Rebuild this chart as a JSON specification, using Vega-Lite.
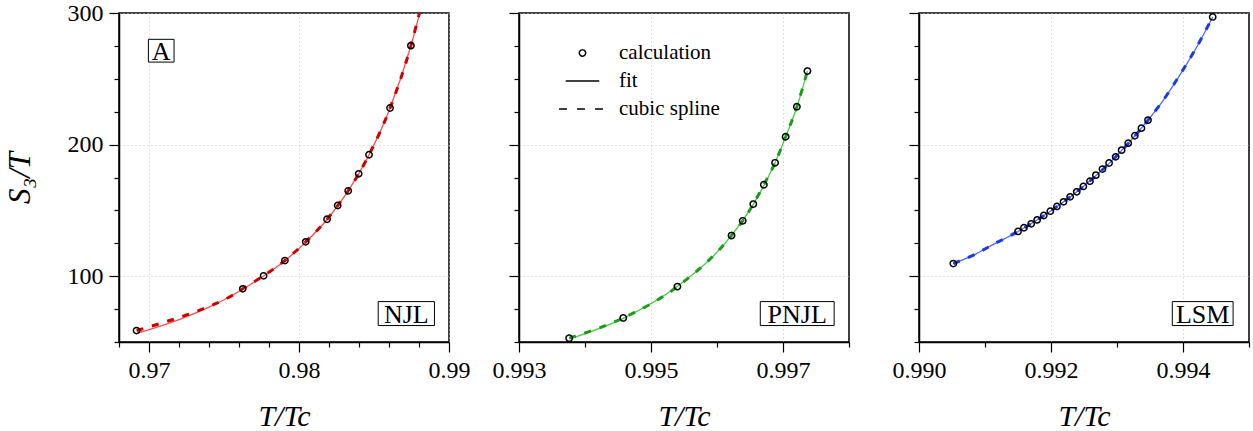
{
  "$schema": "https://vega.github.io/schema/vega-lite/v6.json",
  "padding": {"left": 3, "top": 0, "right": 4, "bottom": 0},
  "spacing": 70,
  "bounds": "flush",
  "config": {
    "view": {"stroke": "black", "strokeWidth": 1.5},
    "font": "Liberation Serif",
    "axis": {
      "labelFont": "Liberation Serif", "labelFontSize": 24, "labelColor": "black",
      "titleFont": "Liberation Serif", "titleFontStyle": "italic", "titleFontWeight": "normal",
      "titleFontSize": 30, "titleColor": "black",
      "domainColor": "black", "domainWidth": 1.5, "tickColor": "black", "tickWidth": 1.2,
      "gridDash": [1, 3], "gridWidth": 1, "tickCount": 40,
      "labelFlush": false, "labelOverlap": false, "labelPadding": 6
    },
    "axisX": {"titlePadding": 19},
    "axisY": {"titlePadding": 31, "titleFontSize": 31}
  },
  "datasets": {
    "njl": [
      {"T": 0.96917, "S": 58.7, "series": "calculation"},
      {"T": 0.97625, "S": 90.4, "series": "calculation"},
      {"T": 0.97764, "S": 100.3, "series": "calculation"},
      {"T": 0.97906, "S": 111.9, "series": "calculation"},
      {"T": 0.98045, "S": 126.1, "series": "calculation"},
      {"T": 0.98187, "S": 143.3, "series": "calculation"},
      {"T": 0.98258, "S": 153.7, "series": "calculation"},
      {"T": 0.98328, "S": 164.9, "series": "calculation"},
      {"T": 0.98398, "S": 177.8, "series": "calculation"},
      {"T": 0.98467, "S": 192.3, "series": "calculation"},
      {"T": 0.98607, "S": 227.8, "series": "calculation"},
      {"T": 0.98746, "S": 275.2, "series": "calculation"},
      {"T": 0.96922, "S": 56.8, "series": "fit"},
      {"T": 0.9700, "S": 59.4, "series": "fit"},
      {"T": 0.9710, "S": 63.0, "series": "fit"},
      {"T": 0.9720, "S": 67.0, "series": "fit"},
      {"T": 0.9730, "S": 71.5, "series": "fit"},
      {"T": 0.9740, "S": 76.5, "series": "fit"},
      {"T": 0.9750, "S": 82.1, "series": "fit"},
      {"T": 0.9760, "S": 88.4, "series": "fit"},
      {"T": 0.9770, "S": 95.4, "series": "fit"},
      {"T": 0.97764, "S": 100.1, "series": "fit"},
      {"T": 0.97906, "S": 111.7, "series": "fit"},
      {"T": 0.98045, "S": 125.9, "series": "fit"},
      {"T": 0.98187, "S": 143.1, "series": "fit"},
      {"T": 0.98328, "S": 164.8, "series": "fit"},
      {"T": 0.98467, "S": 192.2, "series": "fit"},
      {"T": 0.98607, "S": 227.8, "series": "fit"},
      {"T": 0.98746, "S": 275.1, "series": "fit"},
      {"T": 0.98805, "S": 300.0, "series": "fit"},
      {"T": 0.96917, "S": 58.7, "series": "cubic spline"},
      {"T": 0.97101, "S": 65.0, "series": "cubic spline"},
      {"T": 0.97325, "S": 73.6, "series": "cubic spline"},
      {"T": 0.97549, "S": 85.0, "series": "cubic spline"},
      {"T": 0.97625, "S": 90.4, "series": "cubic spline"},
      {"T": 0.97764, "S": 100.3, "series": "cubic spline"},
      {"T": 0.97906, "S": 111.9, "series": "cubic spline"},
      {"T": 0.98045, "S": 126.1, "series": "cubic spline"},
      {"T": 0.98187, "S": 143.3, "series": "cubic spline"},
      {"T": 0.98258, "S": 153.7, "series": "cubic spline"},
      {"T": 0.98328, "S": 164.9, "series": "cubic spline"},
      {"T": 0.98398, "S": 177.8, "series": "cubic spline"},
      {"T": 0.98467, "S": 192.3, "series": "cubic spline"},
      {"T": 0.98607, "S": 227.8, "series": "cubic spline"},
      {"T": 0.98746, "S": 275.2, "series": "cubic spline"},
      {"T": 0.98803, "S": 300.0, "series": "cubic spline"}
    ],
    "pnjl": [
      {"T": 0.99376, "S": 52.9, "series": "calculation"},
      {"T": 0.99458, "S": 68.3, "series": "calculation"},
      {"T": 0.99540, "S": 92.1, "series": "calculation"},
      {"T": 0.99622, "S": 130.9, "series": "calculation"},
      {"T": 0.99639, "S": 142.1, "series": "calculation"},
      {"T": 0.99655, "S": 154.8, "series": "calculation"},
      {"T": 0.99671, "S": 169.5, "series": "calculation"},
      {"T": 0.99688, "S": 186.2, "series": "calculation"},
      {"T": 0.99704, "S": 206.0, "series": "calculation"},
      {"T": 0.99721, "S": 228.8, "series": "calculation"},
      {"T": 0.99737, "S": 255.9, "series": "calculation"},
      {"T": 0.99378, "S": 52.6, "series": "fit"},
      {"T": 0.99458, "S": 68.0, "series": "fit"},
      {"T": 0.99540, "S": 92.3, "series": "fit"},
      {"T": 0.99622, "S": 131.0, "series": "fit"},
      {"T": 0.99655, "S": 154.6, "series": "fit"},
      {"T": 0.99688, "S": 186.4, "series": "fit"},
      {"T": 0.99704, "S": 206.0, "series": "fit"},
      {"T": 0.99721, "S": 228.6, "series": "fit"},
      {"T": 0.99737, "S": 255.9, "series": "fit"},
      {"T": 0.99376, "S": 52.9, "series": "cubic spline"},
      {"T": 0.99458, "S": 68.3, "series": "cubic spline"},
      {"T": 0.99540, "S": 92.1, "series": "cubic spline"},
      {"T": 0.99622, "S": 130.9, "series": "cubic spline"},
      {"T": 0.99639, "S": 142.1, "series": "cubic spline"},
      {"T": 0.99655, "S": 154.8, "series": "cubic spline"},
      {"T": 0.99671, "S": 169.5, "series": "cubic spline"},
      {"T": 0.99688, "S": 186.2, "series": "cubic spline"},
      {"T": 0.99704, "S": 206.0, "series": "cubic spline"},
      {"T": 0.99721, "S": 228.8, "series": "cubic spline"},
      {"T": 0.99737, "S": 255.9, "series": "cubic spline"}
    ],
    "lsm": [
      {"T": 0.99052, "S": 109.6, "series": "calculation"},
      {"T": 0.99150, "S": 134.0, "series": "calculation"},
      {"T": 0.99159, "S": 136.8, "series": "calculation"},
      {"T": 0.99170, "S": 139.8, "series": "calculation"},
      {"T": 0.99179, "S": 142.8, "series": "calculation"},
      {"T": 0.99189, "S": 146.1, "series": "calculation"},
      {"T": 0.99199, "S": 149.4, "series": "calculation"},
      {"T": 0.99209, "S": 153.0, "series": "calculation"},
      {"T": 0.99219, "S": 156.5, "series": "calculation"},
      {"T": 0.99229, "S": 160.3, "series": "calculation"},
      {"T": 0.99239, "S": 164.1, "series": "calculation"},
      {"T": 0.99249, "S": 168.2, "series": "calculation"},
      {"T": 0.99259, "S": 172.2, "series": "calculation"},
      {"T": 0.99268, "S": 176.8, "series": "calculation"},
      {"T": 0.99278, "S": 181.4, "series": "calculation"},
      {"T": 0.99288, "S": 186.0, "series": "calculation"},
      {"T": 0.99298, "S": 190.7, "series": "calculation"},
      {"T": 0.99307, "S": 195.8, "series": "calculation"},
      {"T": 0.99317, "S": 201.1, "series": "calculation"},
      {"T": 0.99327, "S": 206.7, "series": "calculation"},
      {"T": 0.99337, "S": 212.5, "series": "calculation"},
      {"T": 0.99347, "S": 218.6, "series": "calculation"},
      {"T": 0.99445, "S": 297.0, "series": "calculation"},
      {"T": 0.99052, "S": 109.6, "series": "fit"},
      {"T": 0.99085, "S": 116.6, "series": "fit"},
      {"T": 0.99110, "S": 123.4, "series": "fit"},
      {"T": 0.99150, "S": 134.0, "series": "fit"},
      {"T": 0.99199, "S": 149.4, "series": "fit"},
      {"T": 0.99249, "S": 168.2, "series": "fit"},
      {"T": 0.99298, "S": 190.7, "series": "fit"},
      {"T": 0.99347, "S": 218.6, "series": "fit"},
      {"T": 0.99369, "S": 232.9, "series": "fit"},
      {"T": 0.99394, "S": 251.8, "series": "fit"},
      {"T": 0.99420, "S": 273.4, "series": "fit"},
      {"T": 0.99445, "S": 297.0, "series": "fit"},
      {"T": 0.99052, "S": 109.6, "series": "cubic spline"},
      {"T": 0.99085, "S": 116.7, "series": "cubic spline"},
      {"T": 0.99110, "S": 123.5, "series": "cubic spline"},
      {"T": 0.99150, "S": 134.0, "series": "cubic spline"},
      {"T": 0.99199, "S": 149.4, "series": "cubic spline"},
      {"T": 0.99249, "S": 168.2, "series": "cubic spline"},
      {"T": 0.99298, "S": 190.7, "series": "cubic spline"},
      {"T": 0.99347, "S": 218.6, "series": "cubic spline"},
      {"T": 0.99369, "S": 233.0, "series": "cubic spline"},
      {"T": 0.99394, "S": 252.0, "series": "cubic spline"},
      {"T": 0.99420, "S": 273.6, "series": "cubic spline"},
      {"T": 0.99445, "S": 297.0, "series": "cubic spline"}
    ],
    "note": [
      {"label": "note"}
    ]
  },
  "hconcat": [
    {
      "width": 330, "height": 329,
      "layer": [
        {
          "data": {"name": "njl"},
          "transform": [{"filter": "datum.series == 'fit'"}],
          "mark": {"type": "line", "color": "#ff4d4d", "strokeWidth": 1.3, "interpolate": "monotone", "clip": true},
          "encoding": {
            "x": {"field": "T", "type": "quantitative",
              "scale": {"domain": [0.968, 0.99], "nice": false, "zero": false},
              "axis": {
                "title": "T/Tc", "labelFont": "Liberation Serif", "labelOverlap": false, "labelBound": false, "tickCount": 40,
                "values": [0.968, 0.97, 0.972, 0.974, 0.976, 0.978, 0.98, 0.982, 0.984, 0.986, 0.988, 0.99],
                "labelExpr": "(datum.value == 0.97 || datum.value == 0.98 || datum.value == 0.99) ? format(datum.value,'.2f') : ''",
                "tickSize": {"condition": {"test": "datum.value == 0.97 || datum.value == 0.98 || datum.value == 0.99", "value": 10}, "value": 5},
                "gridColor": {"condition": {"test": "datum.value == 0.97 || datum.value == 0.98 || datum.value == 0.99", "value": "#c8c8c8"}, "value": "transparent"}
              }},
            "y": {"field": "S", "type": "quantitative",
              "scale": {"domain": [50, 300], "nice": false, "zero": false},
              "axis": {
                "title": "S₃/T", "labelFont": "Liberation Serif", "labelOverlap": false, "tickCount": 40,
                "values": [50, 75, 100, 125, 150, 175, 200, 225, 250, 275, 300],
                "labelExpr": "datum.value % 100 == 0 ? datum.label : ''",
                "tickSize": {"condition": {"test": "datum.value % 100 == 0", "value": 10}, "value": 5},
                "gridColor": {"condition": {"test": "datum.value % 100 == 0", "value": "#c8c8c8"}, "value": "transparent"}
              }}
          }
        },
        {
          "data": {"name": "njl"},
          "transform": [{"filter": "datum.series == 'cubic spline'"}],
          "mark": {"type": "line", "color": "#cc0000", "strokeWidth": 3, "strokeDash": [7, 9], "interpolate": "monotone", "clip": true},
          "encoding": {"x": {"field": "T", "type": "quantitative"}, "y": {"field": "S", "type": "quantitative"}}
        },
        {
          "data": {"name": "njl"},
          "transform": [{"filter": "datum.series == 'calculation'"}],
          "mark": {"type": "point", "shape": "circle", "filled": false, "color": "black", "strokeWidth": 1.5, "size": 40, "opacity": 1},
          "encoding": {"x": {"field": "T", "type": "quantitative"}, "y": {"field": "S", "type": "quantitative"}}
        },
        {
          "data": {"name": "note"},
          "mark": {"type": "rect", "fill": "white", "stroke": "black", "strokeWidth": 1},
          "encoding": {
            "x": {"datum": 0.96996, "type": "quantitative"}, "x2": {"datum": 0.97167},
            "y": {"datum": 280.0, "type": "quantitative"}, "y2": {"datum": 262.7}
          }
        },
        {
          "data": {"name": "note"},
          "mark": {"type": "text", "font": "Liberation Serif", "fontSize": 26, "baseline": "middle", "align": "center", "dy": 1, "fill": "black"},
          "encoding": {
            "x": {"datum": 0.970815, "type": "quantitative"}, "y": {"datum": 271.35, "type": "quantitative"},
            "text": {"value": "A"}
          }
        },
        {
          "data": {"name": "note"},
          "mark": {"type": "rect", "fill": "white", "stroke": "black", "strokeWidth": 1},
          "encoding": {
            "x": {"datum": 0.98528, "type": "quantitative"}, "x2": {"datum": 0.98903},
            "y": {"datum": 80.7, "type": "quantitative"}, "y2": {"datum": 62.5}
          }
        },
        {
          "data": {"name": "note"},
          "mark": {"type": "text", "font": "Liberation Serif", "fontSize": 26, "baseline": "middle", "align": "center", "dy": 1, "fill": "black"},
          "encoding": {
            "x": {"datum": 0.987155, "type": "quantitative"}, "y": {"datum": 71.6, "type": "quantitative"},
            "text": {"value": "NJL"}
          }
        }
      ]
    },
    {
      "width": 330, "height": 329,
      "layer": [
        {
          "data": {"name": "pnjl"},
          "transform": [{"filter": "datum.series == 'fit'"}],
          "mark": {"type": "line", "color": "#44cc44", "strokeWidth": 1.3, "interpolate": "monotone", "clip": true},
          "encoding": {
            "x": {"field": "T", "type": "quantitative",
              "scale": {"domain": [0.993, 0.998], "nice": false, "zero": false},
              "axis": {
                "title": "T/Tc", "labelFont": "Liberation Serif", "labelOverlap": false, "labelBound": false, "tickCount": 40,
                "values": [0.993, 0.994, 0.995, 0.996, 0.997, 0.998],
                "labelExpr": "(datum.value == 0.993 || datum.value == 0.995 || datum.value == 0.997) ? format(datum.value,'.3f') : ''",
                "tickSize": {"condition": {"test": "datum.value == 0.993 || datum.value == 0.995 || datum.value == 0.997", "value": 10}, "value": 5},
                "gridColor": {"condition": {"test": "datum.value == 0.993 || datum.value == 0.995 || datum.value == 0.997", "value": "#c8c8c8"}, "value": "transparent"}
              }},
            "y": {"field": "S", "type": "quantitative",
              "scale": {"domain": [50, 300], "nice": false, "zero": false},
              "axis": {
                "title": null, "labels": false, "tickCount": 40,
                "values": [50, 75, 100, 125, 150, 175, 200, 225, 250, 275, 300],
                "tickSize": {"condition": {"test": "datum.value % 100 == 0", "value": 10}, "value": 5},
                "gridColor": {"condition": {"test": "datum.value % 100 == 0", "value": "#c8c8c8"}, "value": "transparent"}
              }}
          }
        },
        {
          "data": {"name": "pnjl"},
          "transform": [{"filter": "datum.series == 'cubic spline'"}],
          "mark": {"type": "line", "color": "#1f9a1f", "strokeWidth": 3, "strokeDash": [7, 9], "interpolate": "monotone", "clip": true},
          "encoding": {"x": {"field": "T", "type": "quantitative"}, "y": {"field": "S", "type": "quantitative"}}
        },
        {
          "data": {"name": "pnjl"},
          "transform": [{"filter": "datum.series == 'calculation'"}],
          "mark": {"type": "point", "filled": false, "color": "black", "opacity": 1},
          "encoding": {
            "x": {"field": "T", "type": "quantitative"},
            "y": {"field": "S", "type": "quantitative"},
            "shape": {"field": "series", "type": "nominal",
              "scale": {"domain": ["calculation", "fit", "cubic spline"], "range": ["circle", "stroke", "stroke"]},
              "legend": {"orient": "none", "legendX": 439, "legendY": 30, "title": null, "padding": 0,
                "labelFont": "Liberation Serif", "labelFontSize": 21, "labelColor": "black",
                "clipHeight": 20, "rowPadding": 7, "labelOffset": 12,
                "symbolStrokeColor": "black", "symbolFillColor": "transparent"}},
            "size": {"field": "series", "type": "nominal",
              "scale": {"domain": ["calculation", "fit", "cubic spline"], "range": [40, 2209, 2209]}},
            "strokeDash": {"field": "series", "type": "nominal",
              "scale": {"domain": ["calculation", "fit", "cubic spline"], "range": [[1, 0], [1, 0], [8, 10]]}},
            "strokeWidth": {"field": "series", "type": "nominal",
              "scale": {"domain": ["calculation", "fit", "cubic spline"], "range": [1.5, 1.3, 3]}}
          }
        },
        {
          "data": {"name": "note"},
          "mark": {"type": "rect", "fill": "white", "stroke": "black", "strokeWidth": 1},
          "encoding": {
            "x": {"datum": 0.996656, "type": "quantitative"}, "x2": {"datum": 0.997775},
            "y": {"datum": 80.7, "type": "quantitative"}, "y2": {"datum": 62.5}
          }
        },
        {
          "data": {"name": "note"},
          "mark": {"type": "text", "font": "Liberation Serif", "fontSize": 26, "baseline": "middle", "align": "center", "dy": 1, "fill": "black"},
          "encoding": {
            "x": {"datum": 0.9972155, "type": "quantitative"}, "y": {"datum": 71.6, "type": "quantitative"},
            "text": {"value": "PNJL"}
          }
        }
      ]
    },
    {
      "width": 330, "height": 329,
      "layer": [
        {
          "data": {"name": "lsm"},
          "transform": [{"filter": "datum.series == 'fit'"}],
          "mark": {"type": "line", "color": "#4d66ff", "strokeWidth": 1.3, "interpolate": "monotone", "clip": true},
          "encoding": {
            "x": {"field": "T", "type": "quantitative",
              "scale": {"domain": [0.99, 0.995], "nice": false, "zero": false},
              "axis": {
                "title": "T/Tc", "labelFont": "Liberation Serif", "labelOverlap": false, "labelBound": false, "tickCount": 40,
                "values": [0.99, 0.991, 0.992, 0.993, 0.994, 0.995],
                "labelExpr": "(datum.value == 0.99 || datum.value == 0.992 || datum.value == 0.994) ? format(datum.value,'.3f') : ''",
                "tickSize": {"condition": {"test": "datum.value == 0.99 || datum.value == 0.992 || datum.value == 0.994", "value": 10}, "value": 5},
                "gridColor": {"condition": {"test": "datum.value == 0.99 || datum.value == 0.992 || datum.value == 0.994", "value": "#c8c8c8"}, "value": "transparent"}
              }},
            "y": {"field": "S", "type": "quantitative",
              "scale": {"domain": [50, 300], "nice": false, "zero": false},
              "axis": {
                "title": null, "labels": false, "tickCount": 40,
                "values": [50, 75, 100, 125, 150, 175, 200, 225, 250, 275, 300],
                "tickSize": {"condition": {"test": "datum.value % 100 == 0", "value": 10}, "value": 5},
                "gridColor": {"condition": {"test": "datum.value % 100 == 0", "value": "#c8c8c8"}, "value": "transparent"}
              }}
          }
        },
        {
          "data": {"name": "lsm"},
          "transform": [{"filter": "datum.series == 'cubic spline'"}],
          "mark": {"type": "line", "color": "#1a3ae6", "strokeWidth": 3, "strokeDash": [7, 9], "interpolate": "monotone", "clip": true},
          "encoding": {"x": {"field": "T", "type": "quantitative"}, "y": {"field": "S", "type": "quantitative"}}
        },
        {
          "data": {"name": "lsm"},
          "transform": [{"filter": "datum.series == 'calculation'"}],
          "mark": {"type": "point", "shape": "circle", "filled": false, "color": "black", "strokeWidth": 1.5, "size": 40, "opacity": 1},
          "encoding": {"x": {"field": "T", "type": "quantitative"}, "y": {"field": "S", "type": "quantitative"}}
        },
        {
          "data": {"name": "note"},
          "mark": {"type": "rect", "fill": "white", "stroke": "black", "strokeWidth": 1},
          "encoding": {
            "x": {"datum": 0.993838, "type": "quantitative"}, "x2": {"datum": 0.994759},
            "y": {"datum": 80.7, "type": "quantitative"}, "y2": {"datum": 62.5}
          }
        },
        {
          "data": {"name": "note"},
          "mark": {"type": "text", "font": "Liberation Serif", "fontSize": 26, "baseline": "middle", "align": "center", "dy": 1, "fill": "black"},
          "encoding": {
            "x": {"datum": 0.9942985, "type": "quantitative"}, "y": {"datum": 71.6, "type": "quantitative"},
            "text": {"value": "LSM"}
          }
        }
      ]
    }
  ]
}
